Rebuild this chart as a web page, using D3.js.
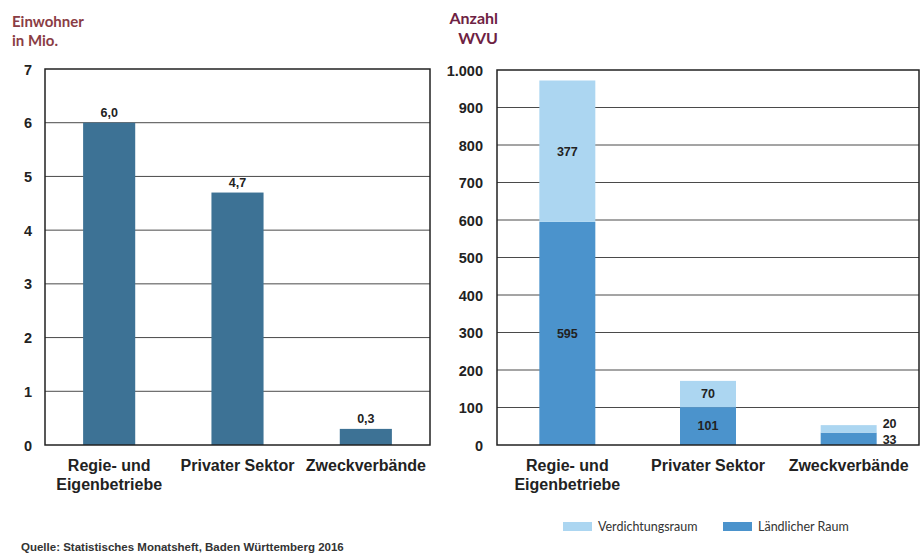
<!DOCTYPE html>
<html><head><meta charset="utf-8">
<script src="https://cdn.jsdelivr.net/npm/d3@7"></script>
<style>
body{margin:0;background:#fff;}
svg{display:block;}
</style></head>
<body>
<svg id="c" width="921" height="553"></svg>
<script>
const categories = ["Regie- und\nEigenbetriebe", "Privater Sektor", "Zweckverbände"];
const einwohner = [6.0, 4.7, 0.3];
const laendlich = [595, 101, 33];
const verdichtung = [377, 70, 20];
const leftTicks = [0, 1, 2, 3, 4, 5, 6, 7];
const rightTicks = [0, 100, 200, 300, 400, 500, 600, 700, 800, 900, 1000];
const seriesNames = ["Verdichtungsraum", "Ländlicher Raum"];

const de = d3.formatLocale({decimal: ",", thousands: ".", grouping: [3], currency: ["", "€"]});
const fmtInt = de.format(",d");
const fmt1 = de.format(".1f");

const svg = d3.select("#c");
const axisFont = "'Liberation Sans', Arial, sans-serif";
const titleFont = "Lato, 'Open Sans', sans-serif";
const textCol = "#222";
const gridCol = "#4a4a4a";
const leftBar = "#3d7295";
const lightBlue = "#acd6f1";
const darkBlue = "#4b93cc";

function catLabels(g, x, yTop) {
  categories.forEach(c => {
    const lines = c.split("\n");
    const t = g.append("text").attr("x", x(c) + x.bandwidth() / 2).attr("y", yTop)
      .attr("text-anchor", "middle").attr("font-family", axisFont).attr("font-weight", "bold")
      .attr("font-size", 16).attr("fill", textCol);
    lines.forEach((l, i) => t.append("tspan").attr("x", x(c) + x.bandwidth() / 2).attr("dy", i === 0 ? 0 : 19).text(l));
  });
}

function frameAndGrid(g, y, ticks, x0, x1, fmt) {
  ticks.forEach(v => {
    if (v !== 0 && v !== ticks[ticks.length - 1]) {
      g.append("line").attr("x1", x0).attr("x2", x1).attr("y1", y(v)).attr("y2", y(v))
        .attr("stroke", gridCol).attr("stroke-width", 1);
    }
  });
  const ax = d3.axisLeft(y).tickValues(ticks).tickSize(0).tickPadding(0).tickFormat(fmt);
  const ag = g.append("g").attr("transform", `translate(${x0},0)`).call(ax);
  ag.select(".domain").remove();
  return ag;
}

// LEFT CHART
{
  const x0 = 45, x1 = 430;
  const y = d3.scaleLinear().domain([0, 7]).range([445, 69]);
  const x = d3.scaleBand().domain(categories).range([x0, x1]).paddingInner(0.594).paddingOuter(0.297);
  const g = svg.append("g");
  const ag = frameAndGrid(g, y, leftTicks, x0, x1, d => d);
  ag.selectAll("text").attr("x", -13).attr("dy", "0.35em").attr("font-family", axisFont)
    .attr("font-weight", "bold").attr("font-size", 14.5).attr("fill", textCol);
  g.selectAll("rect.b").data(einwohner).join("rect").attr("class", "b")
    .attr("x", (d, i) => x(categories[i])).attr("width", x.bandwidth())
    .attr("y", d => y(d)).attr("height", d => y(0) - y(d)).attr("fill", leftBar);
  g.selectAll("text.v").data(einwohner).join("text").attr("class", "v")
    .attr("x", (d, i) => x(categories[i]) + x.bandwidth() / 2).attr("y", d => y(d) - 6)
    .attr("text-anchor", "middle").attr("font-family", axisFont).attr("font-weight", "bold")
    .attr("font-size", 12.5).attr("fill", textCol).text(d => fmt1(d));
  g.append("rect").attr("x", x0).attr("y", y(7)).attr("width", x1 - x0).attr("height", y(0) - y(7))
    .attr("fill", "none").attr("stroke", "#222").attr("stroke-width", 1.5);
  catLabels(g, x, 471);
  const t = g.append("text").attr("x", 12).attr("y", 27).attr("font-family", titleFont)
    .attr("font-weight", "bold").attr("font-size", 15).attr("fill", "#8a3d45");
  t.append("tspan").attr("x", 12).text("Einwohner");
  t.append("tspan").attr("x", 12).attr("dy", 19).text("in Mio.");
}

// RIGHT CHART
{
  const x0 = 497, x1 = 919;
  const y = d3.scaleLinear().domain([0, 1000]).range([445, 70]);
  const x = d3.scaleBand().domain(categories).range([x0, x1]).paddingInner(0.602).paddingOuter(0.301);
  const g = svg.append("g");
  const ag = frameAndGrid(g, y, rightTicks, x0, x1, d => fmtInt(d));
  ag.selectAll("text").attr("x", -14).attr("dy", "0.35em").attr("font-family", axisFont)
    .attr("font-weight", "bold").attr("font-size", 14.5).attr("fill", textCol);
  const rows = categories.map((c, i) => ({cat: c, laendlich: laendlich[i], verdichtung: verdichtung[i]}));
  const stack = d3.stack().keys(["laendlich", "verdichtung"])(rows);
  const cols = {laendlich: darkBlue, verdichtung: lightBlue};
  stack.forEach(s => {
    g.selectAll(null).data(s).join("rect")
      .attr("x", d => x(d.data.cat)).attr("width", x.bandwidth())
      .attr("y", d => y(d[1])).attr("height", d => y(d[0]) - y(d[1])).attr("fill", cols[s.key]);
    g.selectAll(null).data(s).join("text")
      .attr("x", (d, i) => i === 2 ? x(d.data.cat) + x.bandwidth() + 6 : x(d.data.cat) + x.bandwidth() / 2)
      .attr("y", (d, i) => i === 2 ? (s.key === "laendlich" ? 440 : 424) : (y(d[0]) + y(d[1])) / 2)
      .attr("dy", "0.35em")
      .attr("text-anchor", (d, i) => i === 2 ? "start" : "middle")
      .attr("font-family", axisFont).attr("font-weight", "bold").attr("font-size", 12.5).attr("fill", textCol)
      .text(d => fmtInt(d[1] - d[0]));
  });
  g.append("rect").attr("x", x0).attr("y", y(1000)).attr("width", x1 - x0).attr("height", y(0) - y(1000))
    .attr("fill", "none").attr("stroke", "#222").attr("stroke-width", 1.5);
  catLabels(g, x, 471);
  const t = g.append("text").attr("x", 498).attr("y", 24).attr("text-anchor", "end").attr("font-family", titleFont)
    .attr("font-weight", "bold").attr("font-size", 16).attr("fill", "#6e2243");
  t.append("tspan").attr("x", 498).text("Anzahl");
  t.append("tspan").attr("x", 498).attr("dy", 20).text("WVU");

  // legend
  const leg = [{name: seriesNames[0], col: lightBlue, x: 563}, {name: seriesNames[1], col: darkBlue, x: 723}];
  leg.forEach(l => {
    svg.append("rect").attr("x", l.x).attr("y", 522).attr("width", 29).attr("height", 9).attr("fill", l.col);
    svg.append("text").attr("x", l.x + 35).attr("y", 527).attr("dy", "0.35em").attr("font-family", titleFont)
      .attr("font-size", 12.5).attr("fill", "#333").text(l.name);
  });
}

svg.append("text").attr("x", 21).attr("y", 551).attr("font-family", axisFont).attr("font-weight", "bold")
  .attr("font-size", 11.5).attr("fill", "#333").text("Quelle: Statistisches Monatsheft, Baden Württemberg 2016");
</script>
</body></html>
